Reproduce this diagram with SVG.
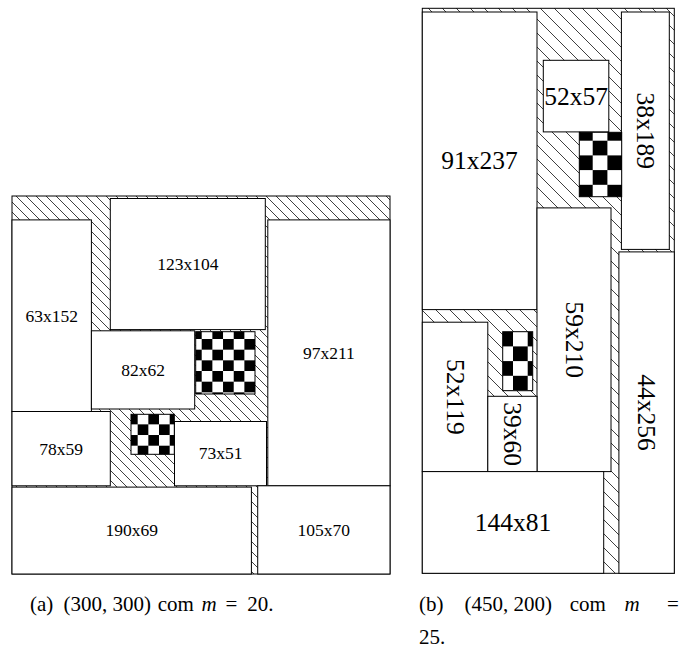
<svg xmlns="http://www.w3.org/2000/svg" width="684" height="648" viewBox="0 0 684 648">
<style>
.bg{fill:#fff}
.box{fill:#fff;stroke:#000;stroke-width:1}
.frame{stroke:#000;stroke-width:1}
.ck{stroke:#000;stroke-width:1}
.la{font-family:"Liberation Serif","DejaVu Serif",serif;font-size:17.5px;text-anchor:middle;fill:#000}
.lb{font-family:"Liberation Serif","DejaVu Serif",serif;font-size:25.5px;text-anchor:middle;fill:#000}
.cap{font-family:"Liberation Serif","DejaVu Serif",serif;font-size:21px;fill:#000}
.it{font-style:italic}
</style>
<defs>
<pattern id="hatchA" patternUnits="userSpaceOnUse" x="0" y="0" width="10" height="10">
<path d="M-1,-1 L11,11 M-1,9 L1,11 M9,-1 L11,1" stroke="#000" stroke-width="0.75" fill="none"/>
</pattern>
<pattern id="hatchB" patternUnits="userSpaceOnUse" x="0" y="0" width="14" height="14">
<path d="M-1,-1 L15,15 M-1,13 L1,15 M13,-1 L15,1" stroke="#000" stroke-width="0.75" fill="none"/>
</pattern>
<pattern id="checkA" patternUnits="userSpaceOnUse" x="191.03" y="328.33" width="21.34" height="21.34">
<rect width="21.34" height="21.34" fill="#fff"/>
<rect width="10.67" height="10.67" fill="#000"/>
<rect x="10.67" y="10.67" width="10.67" height="10.67" fill="#000"/>
</pattern>
<pattern id="checkB1" patternUnits="userSpaceOnUse" x="578" y="126" width="29.4" height="29.4">
<rect width="29.4" height="29.4" fill="#fff"/>
<rect width="14.7" height="14.7" fill="#000"/>
<rect x="14.7" y="14.7" width="14.7" height="14.7" fill="#000"/>
</pattern>
<pattern id="checkB2" patternUnits="userSpaceOnUse" x="498.3" y="331.7" width="29.4" height="29.4">
<rect width="29.4" height="29.4" fill="#fff"/>
<rect width="14.7" height="14.7" fill="#000"/>
<rect x="14.7" y="14.7" width="14.7" height="14.7" fill="#000"/>
</pattern>
</defs>
<rect class="bg" x="0" y="0" width="684" height="648"/>

<!-- (a) 300x300, m=20 -->
<g id="fig-a">
<rect id="frame-a" class="frame" x="12" y="196" width="378" height="378" fill="url(#hatchA)"/>
<g id="a-63x152"><rect class="box" x="12" y="219.9" width="79.4" height="191.6"/><text class="la" x="51.7" y="321.5">63x152</text></g>
<g id="a-123x104"><rect class="box" x="110.3" y="198.5" width="155" height="131.1"/><text class="la" x="187.8" y="269.8">123x104</text></g>
<g id="a-82x62"><rect class="box" x="91.4" y="330.8" width="103.3" height="78.2"/><text class="la" x="143" y="375.7">82x62</text></g>
<g id="a-97x211"><rect class="box" x="267.8" y="219.9" width="122.2" height="265.9"/><text class="la" x="328.9" y="358.6">97x211</text></g>
<g id="a-78x59"><rect class="box" x="12" y="411.5" width="98.3" height="74.3"/><text class="la" x="61.2" y="454.5">78x59</text></g>
<g id="a-73x51"><rect class="box" x="174.5" y="421.5" width="92" height="64.3"/><text class="la" x="220.5" y="459.4">73x51</text></g>
<g id="a-190x69"><rect class="box" x="12" y="487.1" width="239.4" height="86.9"/><text class="la" x="131.7" y="536.3">190x69</text></g>
<g id="a-105x70"><rect class="box" x="257.7" y="485.8" width="132.3" height="88.2"/><text class="la" x="323.8" y="535.7">105x70</text></g>
<g id="a-check1"><rect class="ck" x="195.7" y="331.7" width="59.3" height="62.3" fill="url(#checkA)"/></g>
<g id="a-check2"><rect class="ck" x="131" y="414.3" width="43.3" height="40" fill="url(#checkA)"/></g>
</g>

<!-- (b) 450x200, m=25 -->
<g id="fig-b">
<rect id="frame-b" class="frame" x="422.3" y="8.3" width="252" height="565" fill="url(#hatchB)"/>
<g id="b-91x237"><rect class="box" x="422.3" y="12" width="114.7" height="297.6"/><text class="lb" x="479.6" y="169.2">91x237</text></g>
<g id="b-52x57"><rect class="box" x="543.3" y="60.3" width="65.5" height="71.6"/><text class="lb" x="576" y="104.5">52x57</text></g>
<g id="b-38x189"><rect class="box" x="621.4" y="12" width="47.9" height="237.4"/><text class="lb" transform="translate(645.3,130.7) rotate(90)" x="0" y="8.4">38x189</text></g>
<g id="b-check1"><rect class="ck" x="579.3" y="132.3" width="42.4" height="64.4" fill="url(#checkB1)"/></g>
<g id="b-59x210"><rect class="box" x="537" y="207.9" width="74" height="263.7"/><text class="lb" transform="translate(574,339.7) rotate(90)" x="0" y="8.4">59x210</text></g>
<g id="b-44x256"><rect class="box" x="618.9" y="251.9" width="55.4" height="321.4"/><text class="lb" transform="translate(646.6,412.6) rotate(90)" x="0" y="8.4">44x256</text></g>
<g id="b-52x119"><rect class="box" x="422.3" y="322.2" width="65.5" height="149.4"/><text class="lb" transform="translate(455,396.9) rotate(90)" x="0" y="8.4">52x119</text></g>
<g id="b-check2"><rect class="ck" x="502.7" y="331.7" width="30" height="59" fill="url(#checkB2)"/></g>
<g id="b-39x60"><rect class="box" x="487.8" y="396.3" width="49.2" height="75.3"/><text class="lb" transform="translate(512.4,434) rotate(90)" x="0" y="8.4">39x60</text></g>
<g id="b-144x81"><rect class="box" x="422.3" y="471.6" width="181.4" height="101.7"/><text class="lb" x="513" y="530.9">144x81</text></g>
</g>

<!-- captions -->
<g id="captions">
<text class="cap" y="611"><tspan x="30">(a)</tspan><tspan x="63.4">(300, 300)</tspan><tspan x="157.7">com</tspan><tspan x="201.4" class="it">m</tspan><tspan x="225.4">=</tspan><tspan x="247.3">20.</tspan></text>
<text class="cap" y="611"><tspan x="419">(b)</tspan><tspan x="464.5">(450, 200)</tspan><tspan x="569.8">com</tspan><tspan x="624.5" class="it">m</tspan><tspan x="667">=</tspan></text>
<text class="cap" x="419" y="643.5">25.</text>
</g>
</svg>
